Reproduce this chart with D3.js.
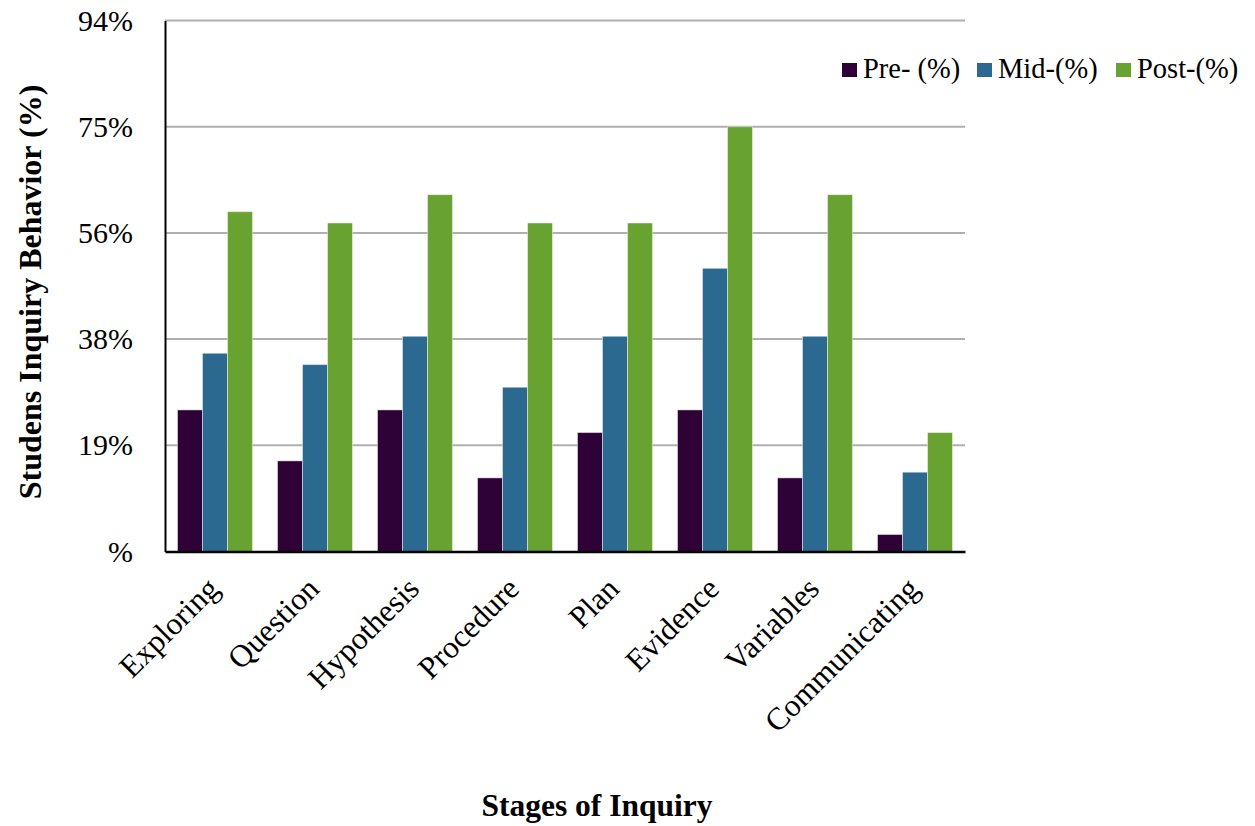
<!DOCTYPE html>
<html><head><meta charset="utf-8">
<script src="https://cdn.jsdelivr.net/npm/d3@7"></script>
<style>body{margin:0;background:#fff}svg{display:block}svg text{font-family:"Liberation Serif","Times New Roman",serif}</style>
</head><body>
<script>
const categories = ["Exploring","Question","Hypothesis","Procedure","Plan","Evidence","Variables","Communicating"];
const seriesNames = ["Pre- (%)","Mid-(%)","Post-(%)"];
const preValues  = [25,16,25,13,21,25,13,3];
const midValues  = [35,33,38,29,38,50,38,14];
const postValues = [60,58,63,58,58,75,63,21];
const tickValues = [0,18.75,37.5,56.25,75,93.75];
const tickLabels = ["%","19%","38%","56%","75%","94%"];
const colors = ["#2e0236","#2b6990","#68a230"];

const SERIF="Liberation Serif";
const W=1255,H=826;
const svg=d3.select("body").append("svg").attr("width",W).attr("height",H);
const x0=d3.scaleBand().domain(categories).range([165,965]).paddingInner(0.25).paddingOuter(0.125);
const x1=d3.scaleBand().domain(seriesNames).range([0,x0.bandwidth()]);
const y=d3.scaleLinear().domain([0,93.75]).range([551.5,20.5]);
const color=d3.scaleOrdinal().domain(seriesNames).range(colors);
const allValues=[preValues,midValues,postValues];

// gridlines
svg.append("g").selectAll("line").data(tickValues.slice(1)).join("line")
  .attr("x1",165).attr("x2",965).attr("y1",d=>y(d)).attr("y2",d=>y(d))
  .attr("stroke","#b0b0b0").attr("stroke-width",2);

// bars
const groups=svg.append("g").selectAll("g").data(categories).join("g")
  .attr("transform",d=>`translate(${x0(d)},0)`);
groups.selectAll("rect").data((c,i)=>seriesNames.map((s,j)=>({s,v:allValues[j][i]}))).join("rect")
  .attr("x",d=>x1(d.s)).attr("width",x1.bandwidth())
  .attr("y",d=>y(d.v)).attr("height",d=>y(0)-y(d.v))
  .attr("fill",d=>color(d.s)).attr("stroke","rgba(255,255,255,0.45)").attr("stroke-width",1);

// y axis
const yAxis=d3.axisLeft(y).tickValues(tickValues).tickFormat((d,i)=>tickLabels[i]).tickSize(0).tickPadding(32);
const ya=svg.append("g").attr("transform","translate(165,0)").call(yAxis);
ya.attr("font-family",SERIF);
ya.select(".domain").attr("stroke","#000").attr("stroke-width",2);
ya.selectAll("text").attr("font-size",30).attr("fill","#000").attr("font-family",SERIF);

// x axis
const xAxis=d3.axisBottom(x0).tickSize(0).tickPadding(0);
const xa=svg.append("g").attr("transform","translate(0,551.5)").call(xAxis);
xa.attr("font-family",SERIF);
xa.select(".domain").attr("stroke","#000").attr("stroke-width",2.5);
xa.selectAll("text").attr("font-size",31.5).attr("fill","#000").attr("font-family",SERIF)
  .attr("text-anchor","end").attr("dy",0)
  .attr("transform","translate(6,39) rotate(-45)");

// legend
const legX=[842,977,1116];
const lg=svg.append("g").attr("font-family",SERIF).selectAll("g").data(seriesNames).join("g")
  .attr("transform",(d,i)=>`translate(${legX[i]},63)`);
lg.append("rect").attr("width",15).attr("height",14).attr("fill",d=>color(d));
lg.append("text").attr("x",21).attr("y",15).attr("font-size",28.5).attr("font-family",SERIF).text(d=>d);

// titles
svg.append("text").attr("x",597).attr("y",816).attr("text-anchor","middle").attr("font-family",SERIF)
  .attr("font-size",31.5).attr("font-weight","bold").text("Stages of Inquiry");
svg.append("text").attr("transform","translate(41,292) rotate(-90)").attr("text-anchor","middle").attr("font-family",SERIF)
  .attr("font-size",32).attr("font-weight","bold").text("Studens Inquiry Behavior (%)");
</script>
</body></html>
